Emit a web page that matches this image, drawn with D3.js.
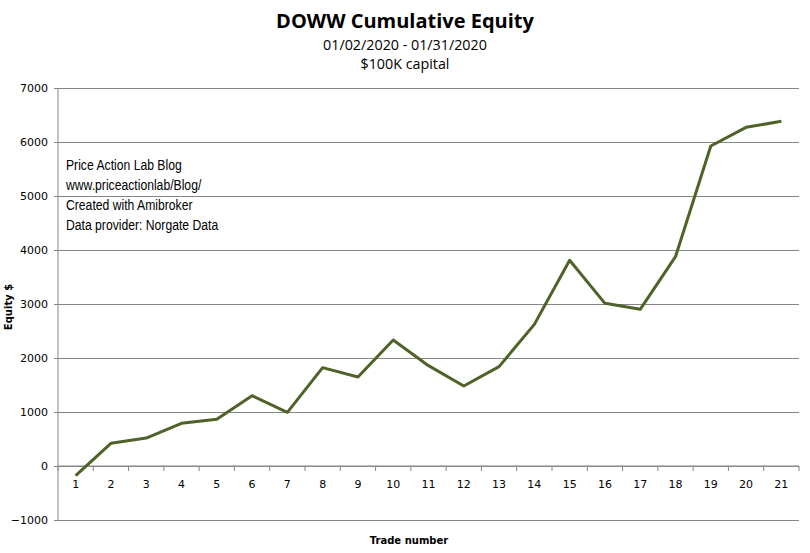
<!DOCTYPE html>
<html><head><meta charset="utf-8">
<script src="https://cdn.jsdelivr.net/npm/d3@7"></script>
<style>body{margin:0;background:#fff}svg{display:block}</style>
</head><body>
<svg id="c" width="810" height="553"></svg>
<script>
const trades = d3.range(1, 22).map(String);
const equity = [-180, 420, 518, 790, 864, 1302, 994, 1821, 1648, 2333, 1858, 1481, 1840, 2623, 3810, 3012, 2901, 3876, 5926, 6272, 6383];
const yTicks = [-1000, 0, 1000, 2000, 3000, 4000, 5000, 6000, 7000];
const notes = ["Price Action Lab Blog", "www.priceactionlab/Blog/", "Created with Amibroker", "Data provider: Norgate Data"];

const svg = d3.select("#c");
const L = 58, R = 799, T = 88, B = 520;
const x = d3.scaleBand().domain(trades).range([L, R]);
const y = d3.scaleLinear().domain([-1000, 7000]).range([B, T]);

// title
svg.append("text").attr("x", 405).attr("y", 28).attr("text-anchor", "middle")
  .attr("font-family", "Open Sans, sans-serif").attr("font-weight", "bold").attr("font-size", 20)
  .attr("fill", "#000").text("DOWW Cumulative Equity");
svg.append("text").attr("x", 405).attr("y", 50).attr("text-anchor", "middle")
  .attr("font-family", "Open Sans, sans-serif").attr("font-size", 14.3).text("01/02/2020 - 01/31/2020");
svg.append("text").attr("x", 405).attr("y", 69).attr("text-anchor", "middle")
  .attr("font-family", "Open Sans, sans-serif").attr("font-size", 14.3).text("$100K capital");

// gridlines + y axis
const yAxis = d3.axisLeft(y).tickValues(yTicks).tickSize(-(R - L + 4)).tickPadding(6).tickFormat(d3.format("d"));
const gy = svg.append("g").attr("transform", `translate(${L - 4},0)`).call(yAxis);
gy.select(".domain").remove();
gy.selectAll(".tick line").attr("stroke", "#868686").attr("stroke-width", 1);
gy.selectAll(".tick text").attr("font-family", "DejaVu Sans, Verdana, sans-serif").attr("font-size", 11).attr("fill", "#000");
svg.append("line").attr("x1", L).attr("x2", L).attr("y1", T).attr("y2", B).attr("stroke", "#868686");

// x axis at 0
const gx = svg.append("g").attr("transform", `translate(0,${y(0)})`);
gx.append("line").attr("x1", L).attr("x2", R).attr("stroke", "#868686");
const bounds = trades.map(t => x(t)).concat([R]);
gx.selectAll(".tk").data(bounds).join("line").attr("x1", d => d).attr("x2", d => d)
  .attr("y1", 0).attr("y2", 5).attr("stroke", "#868686");
gx.selectAll(".lb").data(trades).join("text").attr("x", d => x(d) + x.bandwidth() / 2).attr("y", 22)
  .attr("text-anchor", "middle").attr("font-family", "DejaVu Sans, Verdana, sans-serif").attr("font-size", 11)
  .attr("fill", "#000").text(d => d);

// axis titles
svg.append("text").attr("x", 409).attr("y", 544).attr("text-anchor", "middle")
  .attr("font-family", "DejaVu Sans, Verdana, sans-serif").attr("font-weight", "bold").attr("font-size", 10)
  .text("Trade number");
svg.append("text").attr("transform", "translate(12,307) rotate(-90)").attr("text-anchor", "middle")
  .attr("font-family", "DejaVu Sans, Verdana, sans-serif").attr("font-weight", "bold").attr("font-size", 10)
  .text("Equity $");

// notes
svg.append("g").attr("transform", "translate(66,0) scale(0.87,1)").selectAll("text").data(notes).join("text")
  .attr("x", 0).attr("y", (d, i) => 170 + i * 20)
  .attr("font-family", "Liberation Sans, Arial, sans-serif").attr("font-size", 14).attr("fill", "#000").text(d => d);

// line
const line = d3.line().x((d, i) => x(trades[i]) + x.bandwidth() / 2).y(d => y(d));
svg.append("path").datum(equity).attr("d", line).attr("fill", "none")
  .attr("stroke", "#4F6228").attr("stroke-width", 3).attr("stroke-linejoin", "round");
</script>
</body></html>
